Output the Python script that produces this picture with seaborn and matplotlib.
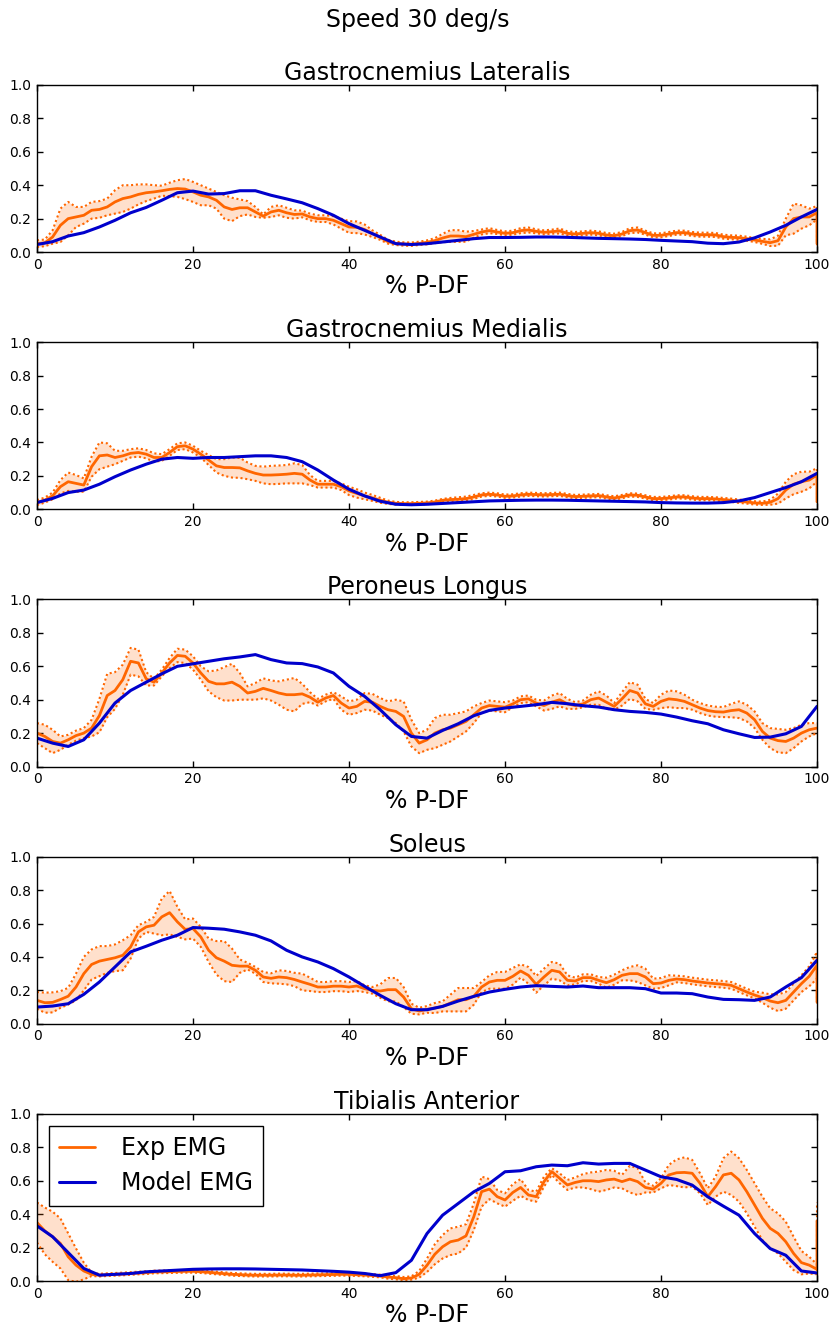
import numpy as np
import pandas as pd
import matplotlib
matplotlib.use("Agg")
import matplotlib.pyplot as plt
from matplotlib.lines import Line2D
import seaborn as sns

# ---------------------------------------------------------------- data
muscles = ["Gastrocnemius Lateralis", "Gastrocnemius Medialis",
           "Peroneus Longus", "Soleus", "Tibialis Anterior"]
x_exp = list(range(0, 101))          # % P-DF, 1 % steps
x_model = list(range(0, 101, 2))     # % P-DF, 2 % steps
x_ticks = [0, 20, 40, 60, 80, 100]
y_ticks = [0.0, 0.2, 0.4, 0.6, 0.8, 1.0]

# Gastrocnemius Lateralis
gl_exp = [0.05, 0.055, 0.09, 0.16, 0.20, 0.21, 0.22, 0.25, 0.255, 0.27,
          0.30, 0.32, 0.33, 0.345, 0.355, 0.36, 0.367, 0.375, 0.38, 0.377,
          0.36, 0.34, 0.33, 0.31, 0.27, 0.255, 0.265, 0.265, 0.24, 0.215,
          0.24, 0.25, 0.235, 0.225, 0.228, 0.21, 0.20, 0.20, 0.19, 0.17,
          0.15, 0.148, 0.135, 0.11, 0.088, 0.062, 0.052, 0.048, 0.047, 0.052,
          0.058, 0.068, 0.084, 0.096, 0.096, 0.092, 0.106, 0.12, 0.128, 0.12,
          0.112, 0.116, 0.128, 0.132, 0.124, 0.118, 0.122, 0.126, 0.112, 0.108,
          0.112, 0.116, 0.112, 0.102, 0.098, 0.108, 0.128, 0.132, 0.116, 0.10,
          0.10, 0.108, 0.116, 0.116, 0.108, 0.104, 0.104, 0.102, 0.092, 0.088,
          0.086, 0.08, 0.072, 0.064, 0.056, 0.068, 0.15, 0.20, 0.21, 0.21,
          0.235]
gl_sd = [0.02, 0.02, 0.04, 0.10, 0.10, 0.06, 0.05, 0.05, 0.05, 0.05,
         0.07, 0.08, 0.07, 0.06, 0.05, 0.04, 0.03, 0.04, 0.05, 0.06,
         0.06, 0.06, 0.05, 0.05, 0.07, 0.07, 0.05, 0.04, 0.03, 0.01,
         0.03, 0.03, 0.03, 0.025, 0.02, 0.02, 0.02, 0.02, 0.025, 0.03,
         0.035, 0.035, 0.03, 0.02, 0.015, 0.012, 0.01, 0.01, 0.01, 0.01,
         0.012, 0.015, 0.025, 0.035, 0.035, 0.03, 0.02, 0.015, 0.015, 0.012,
         0.012, 0.012, 0.015, 0.015, 0.012, 0.012, 0.012, 0.015, 0.012, 0.012,
         0.012, 0.012, 0.012, 0.012, 0.012, 0.012, 0.015, 0.015, 0.012, 0.012,
         0.012, 0.012, 0.012, 0.012, 0.012, 0.012, 0.012, 0.012, 0.012, 0.012,
         0.012, 0.012, 0.012, 0.015, 0.02, 0.03, 0.05, 0.09, 0.07, 0.05,
         0.04]
gl_end = (0.05, 0.01)
gl_model = [0.045, 0.062, 0.096, 0.116, 0.15, 0.19, 0.235, 0.267, 0.31, 0.355,
            0.365, 0.347, 0.35, 0.367, 0.367, 0.34, 0.318, 0.295, 0.26, 0.22,
            0.17, 0.13, 0.09, 0.05, 0.045, 0.05, 0.06, 0.07, 0.08, 0.087,
            0.087, 0.088, 0.09, 0.09, 0.088, 0.085, 0.082, 0.08, 0.078, 0.075,
            0.07, 0.066, 0.062, 0.053, 0.05, 0.06, 0.085, 0.12, 0.16, 0.21,
            0.255]

# Gastrocnemius Medialis
gm_exp = [0.04, 0.055, 0.08, 0.135, 0.165, 0.155, 0.145, 0.255, 0.32, 0.325,
          0.31, 0.32, 0.335, 0.34, 0.33, 0.31, 0.31, 0.34, 0.375, 0.38,
          0.36, 0.33, 0.295, 0.26, 0.25, 0.25, 0.248, 0.23, 0.215, 0.205,
          0.205, 0.207, 0.21, 0.215, 0.21, 0.175, 0.15, 0.15, 0.15, 0.135,
          0.11, 0.095, 0.08, 0.068, 0.054, 0.042, 0.036, 0.034, 0.034, 0.036,
          0.038, 0.044, 0.054, 0.058, 0.06, 0.064, 0.074, 0.086, 0.09, 0.086,
          0.078, 0.08, 0.086, 0.09, 0.088, 0.086, 0.088, 0.09, 0.082, 0.076,
          0.078, 0.08, 0.082, 0.074, 0.068, 0.076, 0.086, 0.084, 0.074, 0.064,
          0.064, 0.068, 0.074, 0.074, 0.068, 0.064, 0.064, 0.062, 0.058, 0.054,
          0.048, 0.044, 0.038, 0.036, 0.042, 0.064, 0.115, 0.15, 0.165, 0.175,
          0.205]
gm_sd = [0.015, 0.015, 0.02, 0.04, 0.055, 0.05, 0.04, 0.06, 0.08, 0.07,
         0.04, 0.03, 0.025, 0.025, 0.025, 0.025, 0.02, 0.02, 0.02, 0.02,
         0.02, 0.02, 0.03, 0.04, 0.05, 0.06, 0.06, 0.05, 0.045, 0.05,
         0.055, 0.055, 0.055, 0.06, 0.055, 0.03, 0.02, 0.02, 0.02, 0.02,
         0.025, 0.025, 0.02, 0.018, 0.015, 0.01, 0.008, 0.008, 0.008, 0.008,
         0.008, 0.008, 0.008, 0.01, 0.012, 0.012, 0.012, 0.01, 0.01, 0.01,
         0.01, 0.01, 0.01, 0.01, 0.01, 0.01, 0.01, 0.01, 0.01, 0.01,
         0.01, 0.01, 0.01, 0.01, 0.01, 0.01, 0.01, 0.01, 0.01, 0.01,
         0.01, 0.01, 0.01, 0.01, 0.01, 0.01, 0.01, 0.01, 0.01, 0.01,
         0.01, 0.01, 0.01, 0.01, 0.015, 0.03, 0.05, 0.06, 0.06, 0.05,
         0.04]
gm_end = (0.045, 0.01)
gm_model = [0.04, 0.065, 0.10, 0.115, 0.15, 0.195, 0.235, 0.27, 0.30, 0.31,
            0.305, 0.31, 0.31, 0.315, 0.32, 0.32, 0.31, 0.285, 0.235, 0.175,
            0.12, 0.08, 0.048, 0.03, 0.027, 0.03, 0.035, 0.04, 0.045, 0.05,
            0.052, 0.054, 0.055, 0.055, 0.054, 0.052, 0.05, 0.048, 0.046, 0.044,
            0.04, 0.038, 0.037, 0.037, 0.04, 0.05, 0.07, 0.10, 0.13, 0.165,
            0.215]

# Peroneus Longus
pl_exp = [0.20, 0.18, 0.15, 0.14, 0.16, 0.185, 0.20, 0.23, 0.305, 0.425,
          0.455, 0.52, 0.63, 0.62, 0.525, 0.505, 0.56, 0.62, 0.665, 0.66,
          0.62, 0.56, 0.51, 0.495, 0.495, 0.505, 0.48, 0.44, 0.45, 0.468,
          0.455, 0.44, 0.43, 0.43, 0.435, 0.415, 0.385, 0.41, 0.425, 0.38,
          0.35, 0.36, 0.39, 0.385, 0.36, 0.34, 0.33, 0.30, 0.20, 0.14,
          0.16, 0.20, 0.22, 0.23, 0.25, 0.27, 0.31, 0.35, 0.365, 0.36,
          0.355, 0.375, 0.40, 0.405, 0.38, 0.365, 0.385, 0.40, 0.375, 0.365,
          0.375, 0.40, 0.41, 0.385, 0.36, 0.405, 0.455, 0.44, 0.375, 0.36,
          0.39, 0.405, 0.40, 0.39, 0.37, 0.35, 0.335, 0.328, 0.326, 0.335,
          0.34, 0.32, 0.28, 0.21, 0.17, 0.155, 0.15, 0.17, 0.20, 0.22,
          0.23]
pl_sd = [0.06, 0.07, 0.07, 0.04, 0.03, 0.03, 0.03, 0.05, 0.10, 0.13,
         0.11, 0.09, 0.08, 0.08, 0.04, 0.02, 0.02, 0.03, 0.04, 0.04,
         0.04, 0.04, 0.06, 0.08, 0.10, 0.11, 0.08, 0.04, 0.05, 0.06,
         0.06, 0.07, 0.09, 0.10, 0.06, 0.03, 0.02, 0.02, 0.02, 0.04,
         0.04, 0.04, 0.05, 0.05, 0.05, 0.05, 0.07, 0.09, 0.08, 0.06,
         0.06, 0.09, 0.09, 0.08, 0.07, 0.06, 0.05, 0.03, 0.03, 0.03,
         0.03, 0.02, 0.02, 0.02, 0.02, 0.03, 0.04, 0.04, 0.03, 0.02,
         0.02, 0.03, 0.04, 0.04, 0.02, 0.04, 0.05, 0.05, 0.03, 0.02,
         0.04, 0.05, 0.05, 0.04, 0.03, 0.03, 0.03, 0.03, 0.03, 0.04,
         0.05, 0.05, 0.05, 0.05, 0.06, 0.07, 0.07, 0.06, 0.05, 0.04,
         0.03]
pl_end = (0.23, 0.03)
pl_model = [0.17, 0.14, 0.12, 0.16, 0.26, 0.38, 0.455, 0.505, 0.555, 0.60,
            0.615, 0.63, 0.645, 0.656, 0.67, 0.64, 0.62, 0.616, 0.596, 0.56,
            0.48, 0.42, 0.34, 0.25, 0.18, 0.17, 0.216, 0.256, 0.304, 0.336,
            0.35, 0.36, 0.37, 0.384, 0.376, 0.364, 0.356, 0.34, 0.33, 0.324,
            0.314, 0.296, 0.274, 0.256, 0.22, 0.196, 0.174, 0.176, 0.196, 0.24,
            0.36]

# Soleus
so_exp = [0.14, 0.126, 0.128, 0.145, 0.165, 0.22, 0.30, 0.355, 0.375, 0.385,
          0.395, 0.41, 0.46, 0.55, 0.58, 0.59, 0.64, 0.665, 0.61, 0.565,
          0.57, 0.52, 0.44, 0.395, 0.375, 0.35, 0.345, 0.345, 0.32, 0.28,
          0.272, 0.28, 0.276, 0.265, 0.25, 0.236, 0.22, 0.22, 0.225, 0.225,
          0.22, 0.226, 0.21, 0.20, 0.196, 0.204, 0.204, 0.16, 0.09, 0.076,
          0.086, 0.094, 0.104, 0.124, 0.144, 0.144, 0.164, 0.22, 0.25, 0.26,
          0.26, 0.284, 0.316, 0.29, 0.236, 0.28, 0.32, 0.31, 0.26, 0.256,
          0.276, 0.276, 0.26, 0.246, 0.264, 0.29, 0.30, 0.30, 0.28, 0.24,
          0.244, 0.26, 0.268, 0.264, 0.256, 0.25, 0.244, 0.24, 0.236, 0.23,
          0.21, 0.19, 0.172, 0.156, 0.136, 0.126, 0.14, 0.19, 0.24, 0.284,
          0.35]
so_sd = [0.05, 0.06, 0.06, 0.05, 0.05, 0.08, 0.10, 0.09, 0.09, 0.08,
         0.08, 0.09, 0.07, 0.04, 0.03, 0.05, 0.11, 0.13, 0.09, 0.06,
         0.06, 0.06, 0.07, 0.10, 0.12, 0.10, 0.04, 0.02, 0.02, 0.03,
         0.03, 0.04, 0.04, 0.04, 0.05, 0.04, 0.03, 0.03, 0.03, 0.03,
         0.03, 0.03, 0.02, 0.02, 0.04, 0.07, 0.07, 0.06, 0.03, 0.02,
         0.02, 0.03, 0.03, 0.05, 0.07, 0.07, 0.05, 0.03, 0.04, 0.05,
         0.05, 0.05, 0.04, 0.05, 0.05, 0.05, 0.05, 0.05, 0.03, 0.02,
         0.02, 0.02, 0.02, 0.03, 0.03, 0.03, 0.04, 0.05, 0.05, 0.03,
         0.03, 0.03, 0.02, 0.02, 0.02, 0.02, 0.02, 0.02, 0.02, 0.02,
         0.02, 0.02, 0.02, 0.03, 0.04, 0.05, 0.05, 0.05, 0.05, 0.06,
         0.08]
so_end = (0.13, 0.02)
so_model = [0.10, 0.106, 0.12, 0.176, 0.25, 0.34, 0.43, 0.464, 0.50, 0.53,
            0.576, 0.572, 0.566, 0.55, 0.53, 0.496, 0.44, 0.40, 0.37, 0.33,
            0.28, 0.224, 0.17, 0.12, 0.084, 0.084, 0.104, 0.136, 0.164, 0.19,
            0.206, 0.22, 0.228, 0.224, 0.22, 0.226, 0.216, 0.216, 0.216, 0.21,
            0.184, 0.184, 0.18, 0.16, 0.146, 0.144, 0.14, 0.16, 0.22, 0.276,
            0.38]

# Tibialis Anterior
ta_exp = [0.35, 0.30, 0.265, 0.225, 0.145, 0.095, 0.06, 0.04, 0.035, 0.038,
          0.04, 0.042, 0.045, 0.048, 0.05, 0.054, 0.055, 0.056, 0.057, 0.058,
          0.058, 0.056, 0.052, 0.048, 0.044, 0.04, 0.038, 0.036, 0.035, 0.035,
          0.035, 0.036, 0.036, 0.035, 0.035, 0.036, 0.037, 0.038, 0.039, 0.04,
          0.04, 0.038, 0.036, 0.033, 0.03, 0.024, 0.02, 0.014, 0.018, 0.04,
          0.094, 0.16, 0.205, 0.235, 0.245, 0.27, 0.385, 0.535, 0.55, 0.505,
          0.485, 0.53, 0.56, 0.515, 0.505, 0.595, 0.655, 0.615, 0.575, 0.59,
          0.60, 0.60, 0.595, 0.605, 0.61, 0.595, 0.61, 0.595, 0.56, 0.55,
          0.585, 0.635, 0.648, 0.65, 0.645, 0.585, 0.505, 0.565, 0.635, 0.645,
          0.605, 0.535, 0.455, 0.375, 0.315, 0.285, 0.235, 0.165, 0.11, 0.095,
          0.07]
ta_sd = [0.12, 0.14, 0.15, 0.15, 0.14, 0.10, 0.05, 0.01, 0.008, 0.008,
         0.008, 0.008, 0.008, 0.008, 0.008, 0.008, 0.008, 0.008, 0.008, 0.008,
         0.008, 0.008, 0.008, 0.008, 0.008, 0.008, 0.008, 0.008, 0.008, 0.008,
         0.008, 0.008, 0.008, 0.008, 0.008, 0.008, 0.008, 0.008, 0.008, 0.008,
         0.008, 0.008, 0.008, 0.008, 0.008, 0.01, 0.01, 0.01, 0.01, 0.02,
         0.04, 0.06, 0.07, 0.08, 0.08, 0.07, 0.08, 0.09, 0.06, 0.04,
         0.04, 0.05, 0.05, 0.03, 0.03, 0.03, 0.02, 0.03, 0.03, 0.03,
         0.04, 0.05, 0.06, 0.06, 0.05, 0.04, 0.08, 0.08, 0.03, 0.02,
         0.03, 0.06, 0.08, 0.09, 0.08, 0.06, 0.05, 0.06, 0.10, 0.13,
         0.13, 0.13, 0.13, 0.13, 0.12, 0.12, 0.12, 0.10, 0.07, 0.05,
         0.03]
ta_end = (0.36, 0.11)
ta_model = [0.33, 0.265, 0.17, 0.075, 0.035, 0.04, 0.045, 0.055, 0.06, 0.065,
            0.07, 0.072, 0.073, 0.073, 0.072, 0.07, 0.068, 0.066, 0.062, 0.058,
            0.053, 0.045, 0.032, 0.05, 0.124, 0.284, 0.394, 0.464, 0.534, 0.584,
            0.654, 0.66, 0.684, 0.694, 0.69, 0.708, 0.70, 0.704, 0.704, 0.664,
            0.624, 0.608, 0.574, 0.504, 0.448, 0.394, 0.284, 0.194, 0.154, 0.06,
            0.048]

exp_means = [gl_exp, gm_exp, pl_exp, so_exp, ta_exp]
exp_sds = [gl_sd, gm_sd, pl_sd, so_sd, ta_sd]
exp_ends = [gl_end, gm_end, pl_end, so_end, ta_end]
model_vals = [gl_model, gm_model, pl_model, so_model, ta_model]

# ---------------------------------------------------------------- style
ORANGE = "#ff6600"
BLUE = "#0000cc"

sns.set_theme(style="ticks", rc={
    "axes.edgecolor": "black",
    "axes.linewidth": 1.0,
    "axes.labelcolor": "black",
    "text.color": "black",
    "xtick.direction": "in",
    "ytick.direction": "in",
    "xtick.top": True,
    "ytick.right": True,
    "xtick.major.size": 4,
    "ytick.major.size": 4,
    "xtick.major.width": 1.0,
    "ytick.major.width": 1.0,
    "xtick.color": "black",
    "ytick.color": "black",
    "xtick.labelcolor": "black",
    "ytick.labelcolor": "black",
    "xtick.labelsize": 10,
    "ytick.labelsize": 10,
    "xtick.major.pad": 4,
    "ytick.major.pad": 4,
})
plt.rcParams["font.family"] = ["DejaVu Sans"]

fig, axes = plt.subplots(5, 1, figsize=(8.35, 13.28), dpi=100)
fig.subplots_adjust(left=37 / 835, right=817 / 835,
                    top=1 - 85 / 1328, bottom=1 - 1281 / 1328, hspace=0.54)

for ax, name, mean, sd, end, model in zip(axes, muscles, exp_means, exp_sds,
                                          exp_ends, model_vals):
    # experimental mean +/- sd, with the final sample repeated at 100 %
    df = pd.DataFrame({"x": x_exp + [100],
                       "mean": mean + [end[0]],
                       "sd": sd + [end[1]]})
    df["upper"] = df["mean"] + df["sd"]
    df["lower"] = df["mean"] - df["sd"]
    dm = pd.DataFrame({"x": x_model, "model": model})

    ax.fill_between(df["x"], df["lower"], df["upper"],
                    color=ORANGE, alpha=0.2, linewidth=0)
    for col in ("upper", "lower"):
        sns.lineplot(data=df, x="x", y=col, ax=ax, color=ORANGE, lw=1.5,
                     linestyle=(0, (1, 1.3)), estimator=None, sort=False)
    sns.lineplot(data=df, x="x", y="mean", ax=ax, color=ORANGE, lw=2,
                 estimator=None, sort=False)
    sns.lineplot(data=dm, x="x", y="model", ax=ax, color=BLUE, lw=2.2,
                 estimator=None, sort=False)

    ax.set_xlim(0, 100)
    ax.set_ylim(0, 1)
    ax.set_xticks(x_ticks)
    ax.set_yticks(y_ticks)
    ax.set_xticklabels([str(t) for t in x_ticks])
    ax.set_yticklabels([f"{t:.1f}" for t in y_ticks])
    ax.set_title(name, fontsize=17, pad=3, color="black")
    ax.set_xlabel("% P-DF", fontsize=17, labelpad=2, color="black")
    ax.set_ylabel("")
    for s in ax.spines.values():
        s.set_visible(True)
        s.set_color("black")

handles = [Line2D([], [], color=ORANGE, lw=2),
           Line2D([], [], color=BLUE, lw=2.2)]
leg = axes[-1].legend(handles, ["Exp EMG", "Model EMG"], loc="upper left",
                      fontsize=17, frameon=True, fancybox=False,
                      edgecolor="black", framealpha=1, handlelength=1.5,
                      handletextpad=1.1, borderaxespad=0.5, borderpad=0.45,
                      labelspacing=0.45, labelcolor="black")
leg.get_frame().set_linewidth(1.0)

fig.suptitle("Speed 30 deg/s", fontsize=17, y=1 - 20 / 1328, va="center",
             color="black")

fig.savefig("out.png", dpi=100)
